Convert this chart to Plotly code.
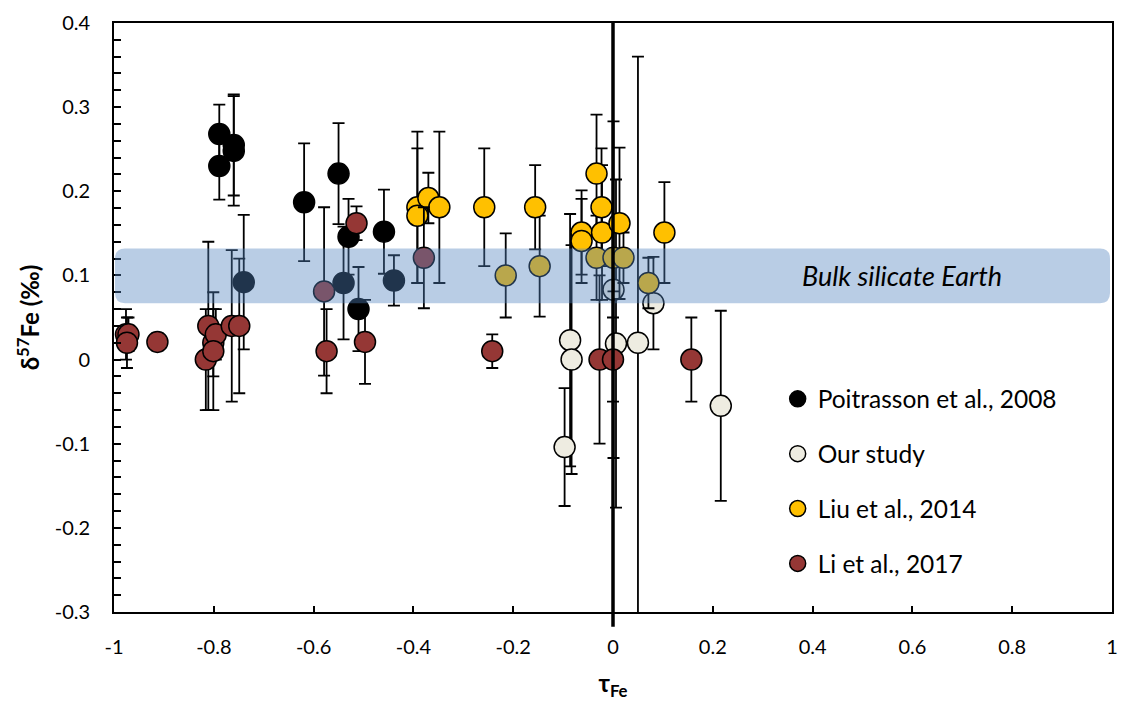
import plotly.graph_objects as go

# ---- data ----
poit_x = [-0.789, -0.789, -0.760, -0.760, -0.619, -0.550, -0.530, -0.459, -0.510, -0.740, -0.540, -0.439]
poit_y = [0.268, 0.230, 0.255, 0.248, 0.187, 0.221, 0.146, 0.152, 0.060, 0.092, 0.091, 0.094]
poit_e = [0.035, 0.040, 0.060, 0.065, 0.070, 0.060, 0.045, 0.050, 0.050, 0.080, 0.067, 0.030]

our_x = [-0.097, -0.086, -0.083, 0.001, 0.006, 0.050, 0.081, 0.216]
our_y = [-0.104, 0.023, 0.000, 0.083, 0.019, 0.020, 0.067, -0.055]
our_e = [0.070, 0.150, 0.136, 0.200, 0.195, 0.340, 0.055, 0.113]

liu_x = [-0.392, -0.370, -0.392, -0.348, -0.258, -0.156, -0.063, -0.063, -0.033, -0.023, -0.022, 0.013, 0.103,
         -0.215, -0.147, -0.033, 0.001, 0.021, 0.071]
liu_y = [0.181, 0.192, 0.171, 0.181, 0.181, 0.181, 0.151, 0.141, 0.221, 0.181, 0.151, 0.162, 0.151,
         0.100, 0.111, 0.121, 0.121, 0.121, 0.091]
liu_e = [0.090, 0.030, 0.080, 0.090, 0.070, 0.050, 0.050, 0.050, 0.070, 0.070, 0.080, 0.090, 0.060,
         0.050, 0.060, 0.050, 0.040, 0.030, 0.030]

li_x = [-0.976, -0.971, -0.974, -0.913, -0.811, -0.816, -0.801, -0.796, -0.801, -0.764, -0.749,
        -0.579, -0.574, -0.514, -0.497, -0.379, -0.242, -0.027, 0.000, 0.157]
li_y = [0.030, 0.030, 0.020, 0.021, 0.040, 0.000, 0.020, 0.030, 0.010, 0.040, 0.040,
        0.081, 0.010, 0.162, 0.021, 0.121, 0.010, 0.000, 0.000, 0.000]
li_e = [0.030, 0.020, 0.030, 0.010, 0.100, 0.060, 0.040, 0.030, 0.070, 0.090, 0.080,
        0.100, 0.050, 0.020, 0.050, 0.060, 0.020, 0.100, 0.050, 0.050]

series_names = ["Poitrasson et al., 2008", "Our study", "Liu et al., 2014", "Li et al., 2017"]
series_colors = ["#000000", "#EEECE1", "#FFC000", "#953735"]

bse_low, bse_high = 0.067, 0.132
bse_label = "Bulk silicate Earth"

x_tick_vals = [-1, -0.8, -0.6, -0.4, -0.2, 0, 0.2, 0.4, 0.6, 0.8, 1]
x_tick_text = ["-1", "-0.8", "-0.6", "-0.4", "-0.2", "0", "0.2", "0.4", "0.6", "0.8", "1"]
y_tick_vals = [-0.3, -0.2, -0.1, 0, 0.1, 0.2, 0.3, 0.4]
y_tick_text = ["-0.3", "-0.2", "-0.1", "0", "0.1", "0.2", "0.3", "0.4"]

FONT = "Lato"

fig = go.Figure()
datasets = [(poit_x, poit_y, poit_e), (our_x, our_y, our_e), (liu_x, liu_y, liu_e), (li_x, li_y, li_e)]
for i, ((xs, ys, es), name, col) in enumerate(zip(datasets, series_names, series_colors)):
    fig.add_trace(go.Scatter(
        x=xs, y=ys, mode="markers", name=name, legendgroup=f"g{i}",
        marker=dict(size=21, color=col, line=dict(color="#000000", width=1.5)),
        error_y=dict(type="data", array=es, visible=True, color="#000000", thickness=1.8, width=6),
    ))

# Bulk silicate Earth band (semi-transparent, drawn above markers, rounded ends)
x0, x1 = -0.998, 0.996
rx, ry = 0.02, 0.012
path = (f"M {x0+rx},{bse_low} L {x1-rx},{bse_low} Q {x1},{bse_low} {x1},{bse_low+ry} "
        f"L {x1},{bse_high-ry} Q {x1},{bse_high} {x1-rx},{bse_high} "
        f"L {x0+rx},{bse_high} Q {x0},{bse_high} {x0},{bse_high-ry} "
        f"L {x0},{bse_low+ry} Q {x0},{bse_low} {x0+rx},{bse_low} Z")
fig.add_shape(type="path", path=path, xref="x", yref="y", layer="above",
              fillcolor="rgba(79,129,189,0.4)", line=dict(width=0))
# vertical line at tau = 0
fig.add_shape(type="line", xref="x", yref="paper", x0=0, x1=0, y0=-0.025, y1=1.0,
              layer="above", line=dict(color="#000000", width=3.5))

fig.add_annotation(x=0.579, y=(bse_low + bse_high) / 2, xref="x", yref="y", text=bse_label,
                   showarrow=False, font=dict(family=FONT, size=27, color="#000000", style="italic"))

fig.update_layout(
    width=1121, height=709,
    margin=dict(l=114, r=9, t=23, b=97),
    paper_bgcolor="white", plot_bgcolor="white",
    font=dict(family=FONT, color="#000000"),
    showlegend=True,
    legend=dict(x=0.665, y=0.400, xanchor="left", yanchor="top", bgcolor="rgba(0,0,0,0)",
                font=dict(family=FONT, size=24.5, color="#000000"), tracegroupgap=20,
                itemsizing="trace"),
)
fig.update_xaxes(range=[-1, 1], tickvals=x_tick_vals, ticktext=x_tick_text, automargin=False,
                 showgrid=False, zeroline=False, showline=True, linecolor="#000000", linewidth=1.8,
                 mirror=True, ticks="inside", ticklen=6, tickwidth=1.5, tickcolor="#000000",
                 tickfont=dict(family=FONT, size=20, color="#000000"), ticklabelstandoff=16,
                 title=dict(text="<b>τ<sub>Fe</sub></b>", font=dict(family=FONT, size=24), standoff=18))
fig.update_yaxes(range=[-0.3, 0.4], tickvals=y_tick_vals, ticktext=y_tick_text, automargin=False,
                 showgrid=False, zeroline=False, showline=True, linecolor="#000000", linewidth=1.8,
                 mirror=True, ticks="inside", ticklen=7, tickwidth=1.5, tickcolor="#000000",
                 minor=dict(dtick=0.02, ticks="inside", ticklen=7, tickwidth=1.5, tickcolor="#000000", showgrid=False),
                 tickfont=dict(family=FONT, size=20, color="#000000"), ticklabelstandoff=18,
                 title=dict(text="<b>δ<sup>57</sup>Fe (‰)</b>", font=dict(family=FONT, size=24), standoff=8))

fig.write_html("out.html", config={"displayModeBar": False},
               post_script="document.body.style.margin='0';")
